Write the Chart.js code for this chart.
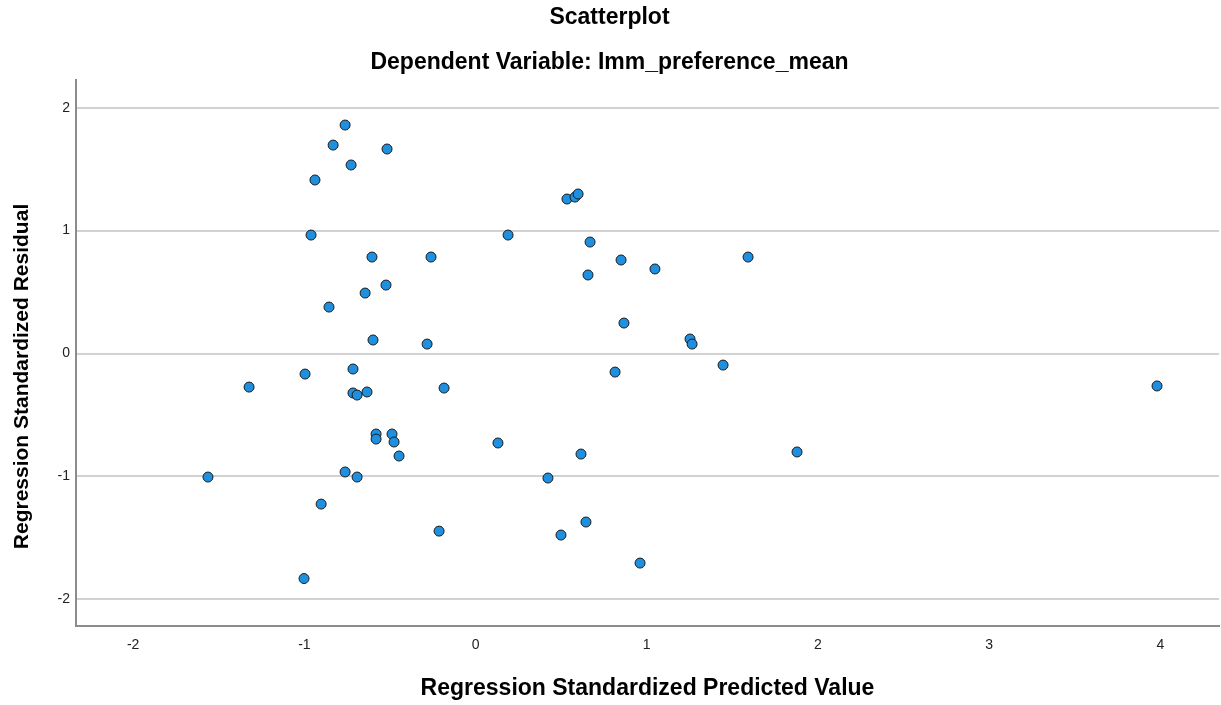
<!DOCTYPE html>
<html>
<head>
<meta charset="utf-8">
<script src="https://cdn.jsdelivr.net/npm/chart.js@4"></script>
<style>
  html, body { margin: 0; padding: 0; background: #ffffff; }
  #wrap { width: 1221px; height: 705px; position: relative; }
</style>
</head>
<body>
<div id="wrap"><canvas id="c"></canvas></div>
<script>
// Regression standardized predicted values (x) and residuals (y)
const predicted = [
  -0.762, -0.832, -0.517, -0.727, -0.938, 0.534, 0.581, 0.599, -0.961, 0.190,
  0.669, -0.605, -0.260, 0.850, 1.048, 1.592, 0.657, -0.523, -0.645, -0.856,
  0.867, -0.599, -0.283, 1.253, 1.265, 1.446, 0.815, 3.981, -1.323, -0.996,
  -0.716, -0.716, -0.692, -0.634, -0.184, -0.581, -0.581, -0.488, -0.476, -0.447,
  0.131, -0.762, -0.692, 0.423, -0.902, -0.213, 0.499, -1.002, 0.616, 0.645,
  0.961, 1.878, -1.563
];
const residual = [
  1.859, 1.696, 1.664, 1.534, 1.412, 1.257, 1.273, 1.298, 0.964, 0.964,
  0.907, 0.785, 0.785, 0.761, 0.688, 0.785, 0.639, 0.557, 0.492, 0.378,
  0.248, 0.110, 0.077, 0.118, 0.077, -0.094, -0.151, -0.264, -0.273, -0.167,
  -0.126, -0.321, -0.338, -0.313, -0.281, -0.655, -0.696, -0.655, -0.720, -0.834,
  -0.728, -0.964, -1.005, -1.013, -1.225, -1.445, -1.477, -1.831, -0.818, -1.371,
  -1.705, -0.801, -1.005
];
const xTicks = [-2, -1, 0, 1, 2, 3, 4];
const yTicks = [-2, -1, 0, 1, 2];

const chartTitle = 'Scatterplot';
const chartSubtitle = 'Dependent Variable: Imm_preference_mean';
const xTitle = 'Regression Standardized Predicted Value';
const yTitle = 'Regression Standardized Residual';

const points = predicted.map((v, i) => ({ x: v, y: residual[i] }));
const FONT = '"Liberation Sans", Arial, sans-serif';

const yTitlePlugin = {
  id: 'yTitle',
  afterDraw(chart) {
    const ctx = chart.ctx;
    ctx.save();
    ctx.font = 'bold 21px ' + FONT;
    ctx.fillStyle = '#000';
    ctx.textAlign = 'center';
    ctx.textBaseline = 'middle';
    ctx.translate(22, 376.5);
    ctx.rotate(-Math.PI / 2);
    ctx.fillText(yTitle, 0, 0);
    ctx.restore();
  }
};

new Chart(document.getElementById('c'), {
  type: 'scatter',
  data: {
    datasets: [{
      data: points,
      backgroundColor: '#1f8fe0',
      borderColor: '#1b1b1b',
      borderWidth: 1,
      pointRadius: 5,
      pointHoverRadius: 5
    }]
  },
  plugins: [yTitlePlugin],
  options: {
    responsive: true,
    maintainAspectRatio: false,
    animation: false,
    layout: { autoPadding: false, padding: { left: 0, right: 2, top: 0, bottom: 0 } },
    plugins: {
      legend: { display: false },
      tooltip: { enabled: false },
      title: {
        display: true,
        text: chartTitle,
        color: '#000',
        font: { family: FONT, size: 23, weight: 'bold' },
        padding: { top: 4, bottom: 17 }
      },
      subtitle: {
        display: true,
        text: chartSubtitle,
        color: '#000',
        font: { family: FONT, size: 23, weight: 'bold' },
        padding: { top: 0, bottom: 3.5 }
      }
    },
    scales: {
      x: {
        type: 'linear',
        min: -2.334,
        max: 4.343,
        afterBuildTicks: (s) => { s.ticks = xTicks.map(v => ({ value: v })); },
        afterFit: (s) => { s.height = 79; s.paddingLeft = 0; s.paddingRight = 0; },
        grid: { display: false, drawTicks: false },
        border: { display: true, color: '#8c8c8c', width: 2 },
        ticks: { color: '#222', font: { family: FONT, size: 14 }, padding: 11 },
        title: {
          display: true,
          text: xTitle,
          color: '#000',
          font: { family: FONT, size: 23, weight: 'bold' },
          padding: { top: 0, bottom: 3 }
        }
      },
      y: {
        type: 'linear',
        min: -2.217,
        max: 2.228,
        afterBuildTicks: (s) => { s.ticks = yTicks.map(v => ({ value: v })); },
        afterFit: (s) => { s.width = 76; s.paddingTop = 0; s.paddingBottom = 0; },
        grid: { display: true, drawTicks: false, color: '#d2d2d2', lineWidth: 2 },
        border: { display: true, color: '#8c8c8c', width: 2 },
        ticks: { color: '#222', font: { family: FONT, size: 14 }, padding: 6 }
      }
    }
  }
});
</script>
</body>
</html>
